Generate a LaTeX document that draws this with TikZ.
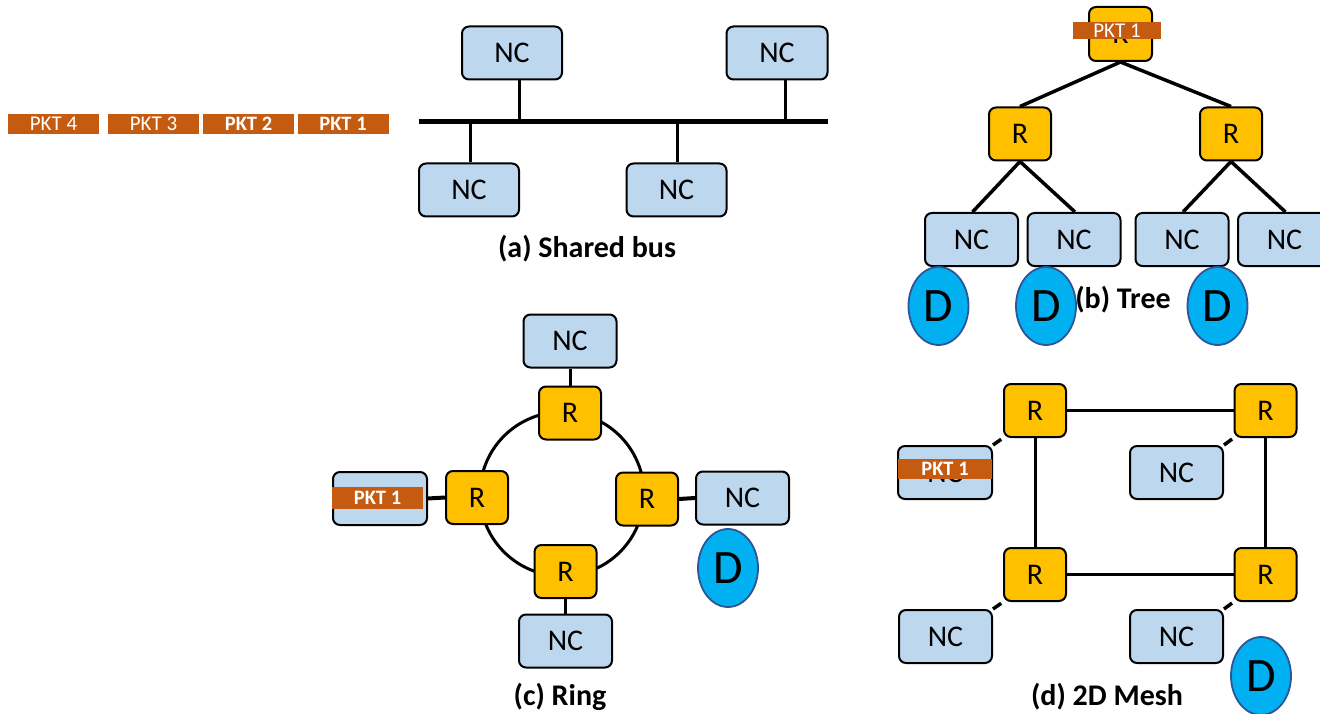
\documentclass[tikz,border=0pt]{standalone}
\usepackage{fontspec}
\setmainfont{Carlito}
\usetikzlibrary{shapes.geometric,backgrounds}

\definecolor{ncblue}{HTML}{BDD7EE}
\definecolor{rgold}{HTML}{FFC000}
\definecolor{pktc}{HTML}{C55A11}
\definecolor{dfill}{HTML}{00B0F0}
\definecolor{dborder}{HTML}{2F5597}

\tikzset{
  ncbox/.style={draw=black, line width=2pt, fill=ncblue, rounded corners=7pt,
    minimum width=93pt, minimum height=53pt, inner sep=0pt,
    font=\fontsize{30}{33}\selectfont},
  rbox/.style={draw=black, line width=2pt, fill=rgold, rounded corners=7pt,
    minimum width=62pt, minimum height=53pt, inner sep=0pt,
    font=\fontsize{30}{33}\selectfont},
  dnode/.style={ellipse, draw=dborder, line width=1.8pt, fill=dfill,
    minimum width=60pt, minimum height=78pt, inner sep=0pt,
    font=\fontsize{48}{52}\selectfont},
  pkt/.style={fill=pktc, text=white, minimum width=91pt, minimum height=20pt,
    inner sep=0pt, font=\fontsize{21}{23}\selectfont},
  pktb/.style={pkt, font=\fontsize{20.5}{23}\selectfont\bfseries},
  caption/.style={anchor=base, font=\fontsize{30}{34}\selectfont\bfseries},
  wire/.style={line width=3pt, draw=black},
  thickwire/.style={line width=4pt, draw=black},
  stub/.style={line width=3.5pt, draw=black, dash pattern=on 10pt off 2.5pt}
}

\begin{document}
\begin{tikzpicture}[x=1pt, y=-1pt]
\useasboundingbox (0,0) rectangle (1320,714);

% ---------- packet queue ----------
\node[pkt]  (q4) at (53.5,124) {PKT 4};
\node[pkt]  (q3) at (153.5,124) {PKT 3};
\node[pktb] (q2) at (248.5,124) {PKT 2};
\node[pktb] (q1) at (343,124) {PKT 1};

% ---------- (a) shared bus ----------
\coordinate (busL) at (419,122);
\coordinate (busR) at (828,122);
\node[ncbox, minimum width=100pt] (ba) at (512,53) {NC};
\node[ncbox, minimum width=101pt] (bb) at (777,53) {NC};
\node[ncbox, minimum width=100pt] (bc) at (469,190) {NC};
\node[ncbox, minimum width=100pt] (bd) at (676.5,190) {NC};
\draw[line width=5pt] (busL) -- (busR);
\draw[wire] ([xshift=7pt]ba.south) -- ([xshift=7pt]ba.south |- busL);
\draw[wire] ([xshift=8pt]bb.south) -- ([xshift=8pt]bb.south |- busL);
\draw[wire] ([xshift=1pt]bc.north) -- ([xshift=1pt]bc.north |- busL);
\draw[wire] ([xshift=1pt]bd.north) -- ([xshift=1pt]bd.north |- busL);
\node[caption] (capa) at (587,258) {(a) Shared bus};

% ---------- (b) tree ----------
\node[rbox, minimum width=63pt, minimum height=54pt] (troot) at (1120.5,34) {R};
\node[rbox] (trl) at (1020,134) {R};
\node[rbox] (trr) at (1231,134) {R};
\node[ncbox] (t1) at (971.5,239.5) {NC};
\node[ncbox] (t2) at (1074,239.5) {NC};
\node[ncbox] (t3) at (1182,239.5) {NC};
\node[ncbox] (t4) at (1284.5,239.5) {NC};
\draw[line width=3.5pt] (troot.south) -- (trl.north);
\draw[line width=3.5pt] (troot.south) -- (trr.north);
\draw[line width=3.5pt] (trl.south) -- ([xshift=1pt]t1.north);
\draw[line width=3.5pt] (trl.south) -- ([xshift=1pt]t2.north);
\draw[line width=3.5pt] (trr.south) -- ([xshift=1pt]t3.north);
\draw[line width=3.5pt] (trr.south) -- ([xshift=1pt]t4.north);
\node[pkt, minimum width=88pt, minimum height=17pt] (tp) at (1117,30.5) {PKT 1};
\node[dnode] (td1) at (938.5,306) {D};
\node[dnode] (td2) at (1046,306) {D};
\node[dnode] (td3) at (1217.5,306) {D};
\node[caption] (capb) at (1123,308) {(b) Tree};

% ---------- (c) ring ----------
\node[rbox] (rtop) at (570,413) {R};
\node[rbox] (rlft) at (477,497.5) {R};
\node[rbox] (rrgt) at (647,499) {R};
\node[rbox] (rbot) at (565.5,571.5) {R};
\coordinate (ringc) at (562,494);
\begin{scope}[on background layer]
  \draw[wire] (ringc) circle[radius=82];
\end{scope}
\node[ncbox] (rnt) at (570,341) {NC};
\node[ncbox, minimum width=94pt] (rnl) at (380,498.5) {NC};
\node[ncbox] (rnr) at (742.5,498) {NC};
\node[ncbox] (rnb) at (565.5,641) {NC};
\draw[wire] (rnt.south) -- (rtop.north);
\draw[thickwire] (rlft.west) -- (rnl.east);
\draw[thickwire] (rrgt.east) -- (rnr.west);
\draw[wire] (rbot.south) -- (rnb.north);
\node[pktb, minimum height=22pt] (rp) at (377.5,498) {PKT 1};
\node[dnode] (rd) at (728,568) {D};
\node[caption] (capc) at (560,705) {(c) Ring};

% ---------- (d) 2D mesh ----------
\node[rbox] (m1) at (1035,410.5) {R};
\node[rbox] (m2) at (1265.5,410.5) {R};
\node[rbox] (m3) at (1035,574.5) {R};
\node[rbox] (m4) at (1265.5,574.5) {R};
\draw[wire] (m1.east) -- (m2.west);
\draw[wire] (m3.east) -- (m4.west);
\draw[wire] (m1.south) -- (m3.north);
\draw[wire] (m2.south) -- (m4.north);
\node[ncbox, minimum width=94pt] (mn1) at (945,472.5) {NC};
\node[ncbox] (mn2) at (1176.5,472.5) {NC};
\node[ncbox] (mn3) at (945.5,636.5) {NC};
\node[ncbox] (mn4) at (1176.5,636.5) {NC};
\draw[stub] (mn1.north east) -- (m1.south west);
\draw[stub] (mn2.north east) -- (m2.south west);
\draw[stub] (mn3.north east) -- (m3.south west);
\draw[stub] (mn4.north east) -- (m4.south west);
\node[pktb, minimum width=94pt] (mp) at (945,469) {PKT 1};
\node[dnode] (md) at (1261,676) {D};
\node[caption] (capd) at (1107,705) {(d) 2D Mesh};
\end{tikzpicture}
\end{document}
